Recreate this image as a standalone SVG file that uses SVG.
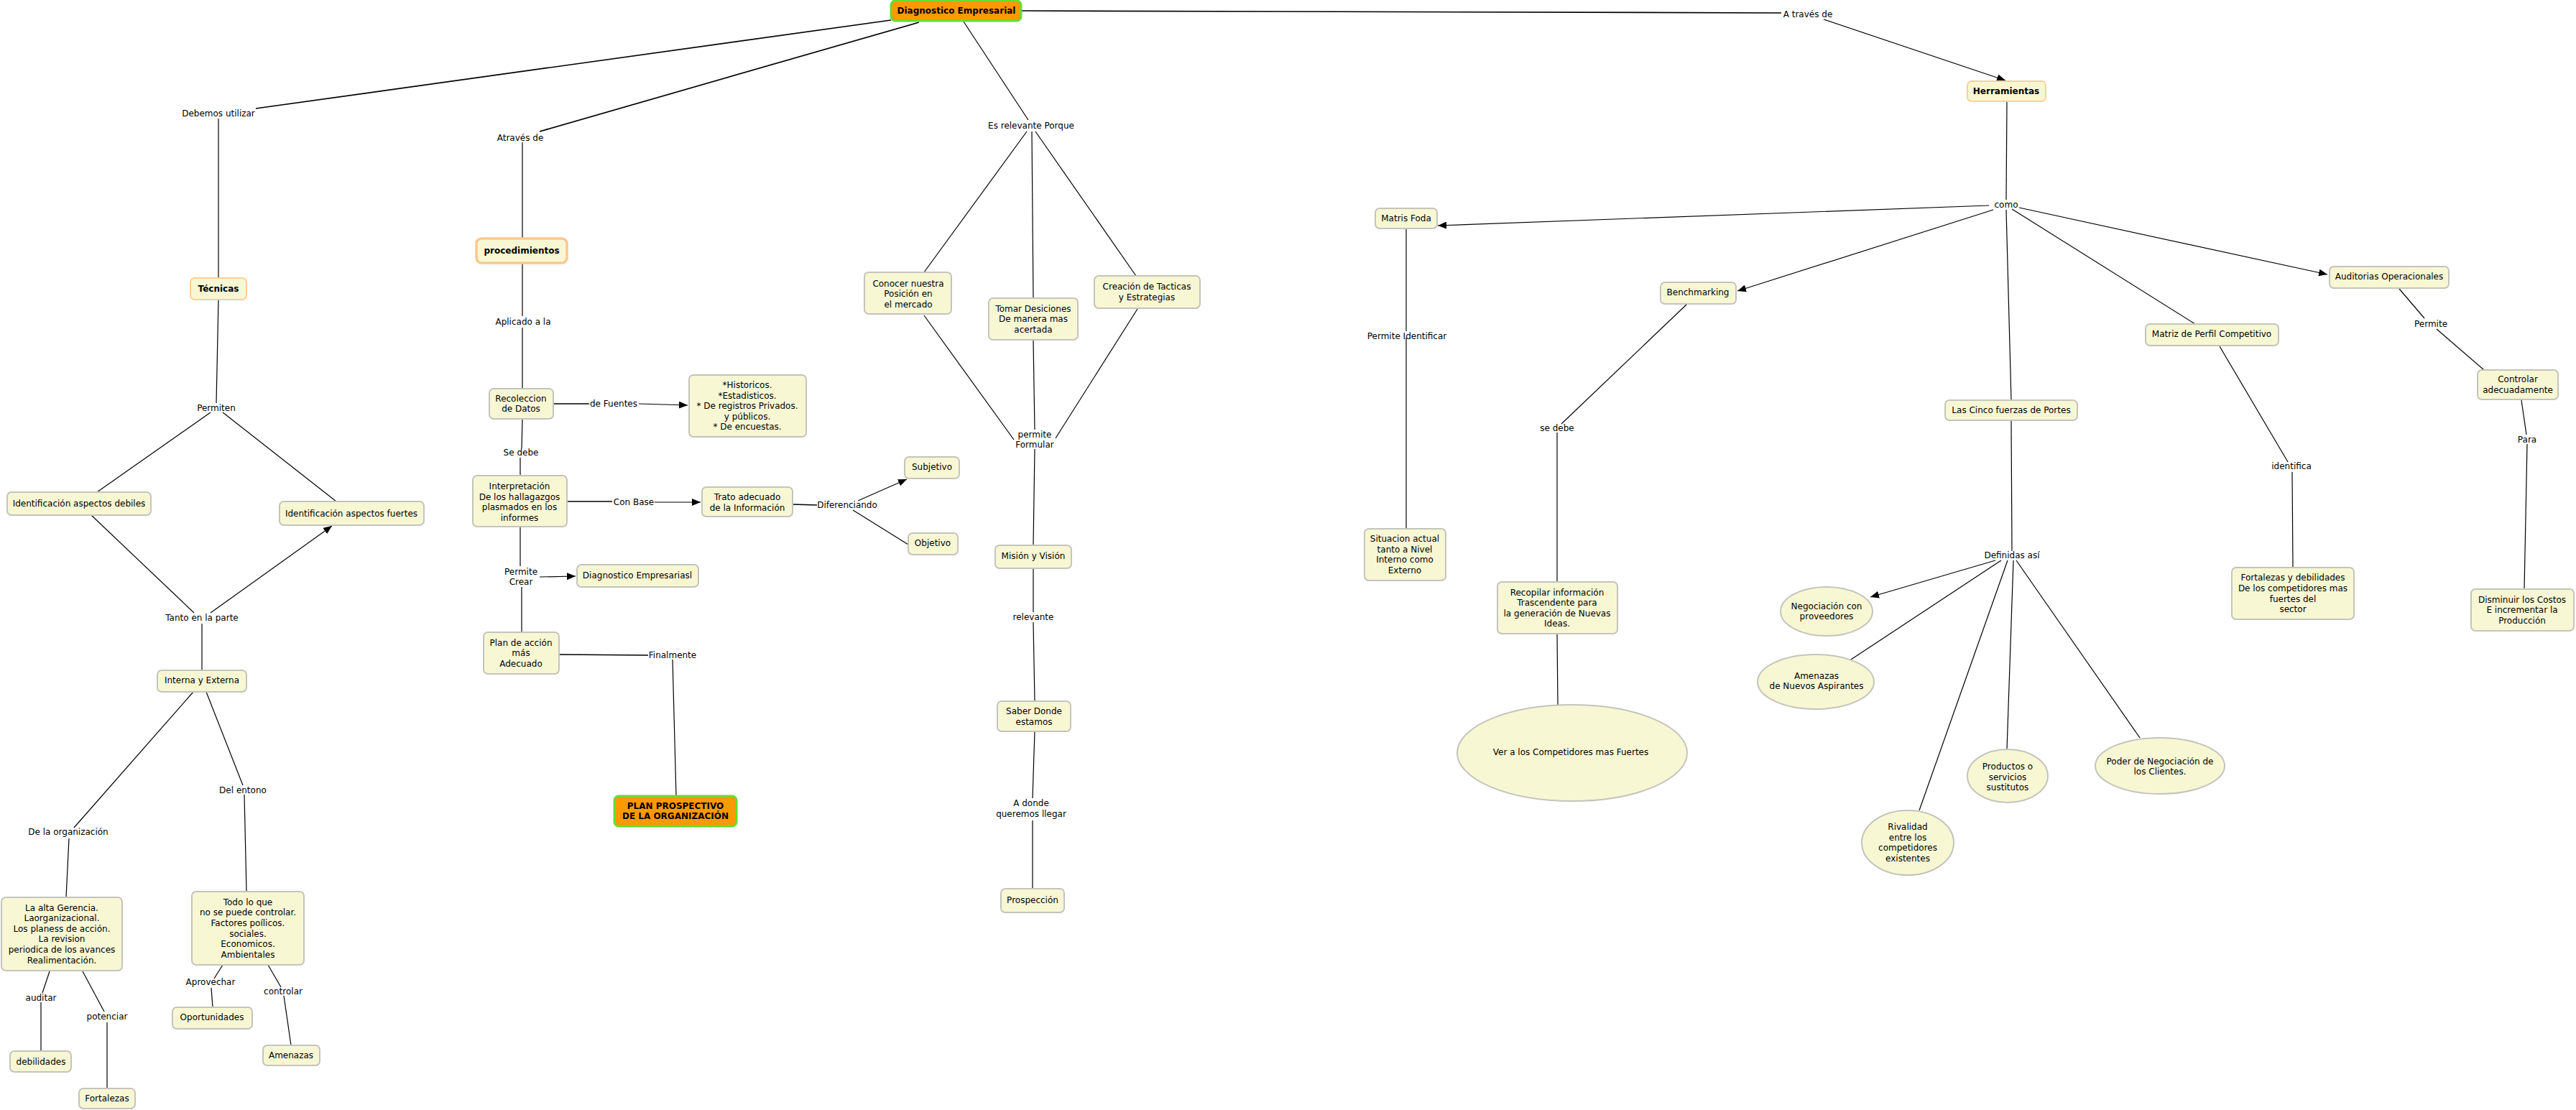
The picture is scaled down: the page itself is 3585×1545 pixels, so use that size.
<svg xmlns="http://www.w3.org/2000/svg" width="3585" height="1545" viewBox="0 0 3585 1545">
<style>
text{font-family:"DejaVu Sans",Verdana,sans-serif;font-size:12px;fill:#000;text-anchor:middle}
.b{font-weight:bold}
.n{fill:#f8f7d4;stroke:#c4c4bc;stroke-width:2}
.o{fill:#f8f7d4;stroke:#fbcf9c;stroke-width:2}
.o3{fill:#f8f7d4;stroke:#fbc890;stroke-width:3.5}
.r{fill:#ff9900;stroke:#66dd33;stroke-width:3}
.c line{stroke:#000;stroke-width:1.2}
.c line.t{stroke-width:1.7}
.a{marker-end:url(#ah);stroke-width:1.6}
</style>
<defs>
<marker id="ah" viewBox="0 0 12 10" refX="12" refY="5" markerWidth="12" markerHeight="10" markerUnits="userSpaceOnUse" orient="auto"><path d="M0,0L12,5L0,10z" fill="#000"/></marker>
</defs>
<rect width="3585" height="1545" fill="#fff"/>
<g class="c" id="connectors">
<line class="t" x1="1240" y1="28" x2="356" y2="151"/>
<line x1="304" y1="165" x2="304" y2="387"/>
<line class="t" x1="1279" y1="31" x2="751" y2="183"/>
<line x1="727" y1="198" x2="727" y2="332"/>
<line x1="727" y1="366" x2="727" y2="440"/>
<line x1="727" y1="456" x2="727" y2="541"/>
<line x1="1341" y1="30" x2="1431" y2="167"/>
<line x1="1429" y1="183" x2="1286" y2="379"/>
<line x1="1436" y1="183" x2="1438" y2="415"/>
<line x1="1441" y1="183" x2="1581" y2="384"/>
<line x1="1286" y1="439" x2="1411" y2="612"/>
<line x1="1438" y1="473" x2="1440" y2="598"/>
<line x1="1583" y1="430" x2="1469" y2="610"/>
<line x1="1440" y1="625" x2="1438" y2="759"/>
<line x1="1438" y1="792" x2="1438" y2="852"/>
<line x1="1438" y1="866" x2="1440" y2="976"/>
<line x1="1440" y1="1018" x2="1437" y2="1111"/>
<line x1="1437" y1="1142" x2="1437" y2="1237"/>
<line class="t" x1="1421" y1="15" x2="2479" y2="18"/>
<line class="a" x1="2538" y1="27" x2="2791" y2="112"/>
<line x1="2793" y1="141" x2="2792" y2="278"/>
<line class="a" x1="2768" y1="286" x2="2001" y2="314"/>
<line class="a" x1="2774" y1="292" x2="2418" y2="405"/>
<line class="a" x1="2810" y1="289" x2="3239" y2="382"/>
<line x1="2800" y1="291" x2="3055" y2="451"/>
<line x1="2792" y1="292" x2="2799" y2="557"/>
<line x1="1957" y1="318" x2="1957" y2="461"/>
<line x1="1957" y1="470" x2="1957" y2="736"/>
<line x1="2348" y1="423" x2="2173" y2="590"/>
<line x1="2167" y1="602" x2="2167" y2="810"/>
<line x1="2167" y1="882" x2="2168" y2="981"/>
<line x1="3089" y1="482" x2="3184" y2="643"/>
<line x1="3190" y1="657" x2="3191" y2="790"/>
<line x1="3339" y1="402" x2="3374" y2="443"/>
<line x1="3391" y1="458" x2="3457" y2="515"/>
<line x1="3509" y1="557" x2="3516" y2="605"/>
<line x1="3517" y1="618" x2="3513" y2="820"/>
<line x1="2799" y1="586" x2="2800" y2="767"/>
<line class="a" x1="2777" y1="780" x2="2603" y2="831"/>
<line x1="2785" y1="780" x2="2576" y2="918"/>
<line x1="2794" y1="780" x2="2671" y2="1128"/>
<line x1="2802" y1="780" x2="2793" y2="1043"/>
<line x1="2806" y1="780" x2="2978" y2="1027"/>
<line x1="304" y1="417" x2="301" y2="561"/>
<line x1="293" y1="574" x2="135" y2="685"/>
<line x1="310" y1="574" x2="468" y2="698"/>
<line x1="127" y1="717" x2="270" y2="853"/>
<line class="a" x1="293" y1="853" x2="462" y2="732"/>
<line x1="281" y1="868" x2="281" y2="933"/>
<line x1="269" y1="963" x2="103" y2="1152"/>
<line x1="287" y1="963" x2="338" y2="1093"/>
<line x1="340" y1="1106" x2="343" y2="1241"/>
<line x1="96" y1="1167" x2="92" y2="1249"/>
<line x1="69" y1="1352" x2="59" y2="1382"/>
<line x1="57" y1="1395" x2="57" y2="1463"/>
<line x1="115" y1="1352" x2="145" y2="1408"/>
<line x1="149" y1="1423" x2="149" y2="1515"/>
<line x1="310" y1="1343" x2="298" y2="1362"/>
<line x1="294" y1="1375" x2="296" y2="1402"/>
<line x1="373" y1="1343" x2="391" y2="1374"/>
<line x1="395" y1="1386" x2="405" y2="1455"/>
<line class="t" x1="770" y1="562" x2="820" y2="562"/>
<line class="a" x1="889" y1="562" x2="957" y2="564"/>
<line x1="727" y1="583" x2="726" y2="624"/>
<line x1="724" y1="637" x2="724" y2="662"/>
<line class="t" x1="789" y1="698" x2="852" y2="698"/>
<line class="a" x1="911" y1="699" x2="975" y2="699"/>
<line x1="724" y1="734" x2="724" y2="788"/>
<line class="a" x1="751" y1="803" x2="801" y2="802"/>
<line x1="726" y1="817" x2="726" y2="880"/>
<line class="t" x1="778" y1="911" x2="902" y2="912"/>
<line x1="936" y1="918" x2="941" y2="1108"/>
<line class="t" x1="1103" y1="702" x2="1137" y2="703"/>
<line class="a" x1="1194" y1="697" x2="1262" y2="667"/>
<line x1="1187" y1="710" x2="1264" y2="758"/>
</g>
<g id="labels">
<text x="304" y="162">Debemos utilizar</text>
<text x="724" y="196">Através de</text>
<text x="1435" y="179">Es relevante Porque</text>
<text x="2516" y="24">A través de</text>
<text x="728" y="452">Aplicado a la</text>
<text x="301" y="572">Permiten</text>
<text x="281" y="864">Tanto en la parte</text>
<text x="95" y="1162">De la organización</text>
<text x="338" y="1104">Del entono</text>
<text x="57" y="1393">auditar</text>
<text x="149" y="1419">potenciar</text>
<text x="293" y="1371">Aprovechar</text>
<text x="394" y="1384">controlar</text>
<text x="854" y="566">de Fuentes</text>
<text x="725" y="634">Se debe</text>
<text x="882" y="703">Con Base</text>
<text x="725" y="800">Permite</text>
<text x="725" y="814">Crear</text>
<text x="936" y="916">Finalmente</text>
<text x="1179" y="707">Diferenciando</text>
<text x="1440" y="609">permite</text>
<text x="1440" y="623">Formular</text>
<text x="1438" y="863">relevante</text>
<text x="1435" y="1122">A donde</text>
<text x="1435" y="1137">queremos llegar</text>
<text x="1958" y="472">Permite Identificar</text>
<text x="2167" y="600">se debe</text>
<text x="2792" y="289">como</text>
<text x="2800" y="777">Definidas así</text>
<text x="3189" y="653">identifica</text>
<text x="3383" y="455">Permite</text>
<text x="3517" y="616">Para</text>
</g>
<g id="diag"><rect class="r" x="1240" y="1" width="181" height="28" rx="6"/><text class="b" x="1331" y="19">Diagnostico Empresarial</text></g>
<g id="tecnicas"><rect class="o" x="265" y="387" width="78" height="30" rx="6"/><text class="b" x="304" y="406">Técnicas</text></g>
<g id="procedimientos"><rect class="o3" x="663" y="332" width="126" height="34" rx="7"/><text class="b" x="726" y="353">procedimientos</text></g>
<g id="herramientas"><rect class="o" x="2738" y="113" width="109" height="28" rx="6"/><text class="b" x="2792" y="131">Herramientas</text></g>
<g id="conocer"><rect class="n" x="1203" y="379" width="121" height="58" rx="6"/><text x="1264"><tspan x="1264" y="399">Conocer nuestra</tspan><tspan x="1264" y="413">Posición en</tspan><tspan x="1264" y="428">el mercado</tspan></text></g>
<g id="tomar"><rect class="n" x="1376" y="415" width="124" height="58" rx="6"/><text x="1438"><tspan x="1438" y="434">Tomar Desiciones</tspan><tspan x="1438" y="448">De manera mas</tspan><tspan x="1438" y="463">acertada</tspan></text></g>
<g id="creacion"><rect class="n" x="1523" y="384" width="147" height="45" rx="6"/><text x="1596"><tspan x="1596" y="403">Creación de Tacticas</tspan><tspan x="1596" y="418">y Estrategias</tspan></text></g>
<g id="recoleccion"><rect class="n" x="681" y="541" width="89" height="42" rx="6"/><text x="725"><tspan x="725" y="559">Recoleccion</tspan><tspan x="725" y="573">de Datos</tspan></text></g>
<g id="historicos"><rect class="n" x="959" y="522" width="163" height="86" rx="6"/><text x="1040"><tspan x="1040" y="540">*Historicos.</tspan><tspan x="1040" y="555">*Estadisticos.</tspan><tspan x="1040" y="569">* De registros Privados.</tspan><tspan x="1040" y="584">y públicos.</tspan><tspan x="1040" y="598">* De encuestas.</tspan></text></g>
<g id="interpretacion"><rect class="n" x="658" y="662" width="131" height="71" rx="6"/><text x="723"><tspan x="723" y="681">Interpretación</tspan><tspan x="723" y="696">De los hallagazgos</tspan><tspan x="723" y="710">plasmados en los</tspan><tspan x="723" y="725">informes</tspan></text></g>
<g id="trato"><rect class="n" x="977" y="678" width="126" height="41" rx="6"/><text x="1040"><tspan x="1040" y="696">Trato adecuado</tspan><tspan x="1040" y="711">de la Información</tspan></text></g>
<g id="subjetivo"><rect class="n" x="1259" y="636" width="76" height="30" rx="6"/><text x="1297" y="654">Subjetivo</text></g>
<g id="objetivo"><rect class="n" x="1264" y="742" width="69" height="30" rx="6"/><text x="1298" y="760">Objetivo</text></g>
<g id="diagemp2"><rect class="n" x="803" y="786" width="169" height="31" rx="6"/><text x="887" y="805">Diagnostico Empresariasl</text></g>
<g id="plan"><rect class="n" x="673" y="880" width="105" height="58" rx="6"/><text x="725"><tspan x="725" y="899">Plan de acción</tspan><tspan x="725" y="913">más</tspan><tspan x="725" y="928">Adecuado</tspan></text></g>
<g id="planprosp"><rect class="r" x="855" y="1108" width="170" height="42" rx="6"/><text class="b" x="940"><tspan x="940" y="1126">PLAN PROSPECTIVO</tspan><tspan x="940" y="1140">DE LA ORGANIZACIÓN</tspan></text></g>
<g id="mision"><rect class="n" x="1385" y="759" width="106" height="32" rx="6"/><text x="1438" y="778">Misión y Visión</text></g>
<g id="saber"><rect class="n" x="1388" y="976" width="102" height="42" rx="6"/><text x="1439"><tspan x="1439" y="994">Saber Donde</tspan><tspan x="1439" y="1009">estamos</tspan></text></g>
<g id="prospeccion"><rect class="n" x="1393" y="1237" width="88" height="33" rx="6"/><text x="1437" y="1257">Prospección</text></g>
<g id="idebiles"><rect class="n" x="10" y="685" width="200" height="32" rx="6"/><text x="110" y="705">Identificación aspectos debiles</text></g>
<g id="ifuertes"><rect class="n" x="389" y="698" width="201" height="33" rx="6"/><text x="489" y="719">Identificación aspectos fuertes</text></g>
<g id="interna"><rect class="n" x="219" y="933" width="124" height="30" rx="6"/><text x="281" y="951">Interna y Externa</text></g>
<g id="altagerencia"><rect class="n" x="2" y="1249" width="168" height="102" rx="6"/><text x="86"><tspan x="86" y="1268">La alta Gerencia.</tspan><tspan x="86" y="1282">Laorganizacional.</tspan><tspan x="86" y="1297">Los planess de acción.</tspan><tspan x="86" y="1311">La revision</tspan><tspan x="86" y="1326">periodica de los avances</tspan><tspan x="86" y="1341">Realimentación.</tspan></text></g>
<g id="todoloque"><rect class="n" x="267" y="1241" width="156" height="102" rx="6"/><text x="345"><tspan x="345" y="1260">Todo lo que</tspan><tspan x="345" y="1274">no se puede controlar.</tspan><tspan x="345" y="1289">Factores poílicos.</tspan><tspan x="345" y="1304">sociales.</tspan><tspan x="345" y="1318">Economicos.</tspan><tspan x="345" y="1333">Ambientales</tspan></text></g>
<g id="debilidades"><rect class="n" x="14" y="1463" width="85" height="29" rx="6"/><text x="57" y="1482">debilidades</text></g>
<g id="fortalezas"><rect class="n" x="110" y="1515" width="78" height="28" rx="6"/><text x="149" y="1533">Fortalezas</text></g>
<g id="oportunidades"><rect class="n" x="240" y="1402" width="111" height="30" rx="6"/><text x="295" y="1420">Oportunidades</text></g>
<g id="amenazas"><rect class="n" x="366" y="1455" width="79" height="28" rx="6"/><text x="405" y="1473">Amenazas</text></g>
<g id="matrisfoda"><rect class="n" x="1914" y="290" width="86" height="28" rx="6"/><text x="1957" y="308">Matris Foda</text></g>
<g id="situacion"><rect class="n" x="1899" y="736" width="113" height="72" rx="6"/><text x="1955"><tspan x="1955" y="754">Situacion actual</tspan><tspan x="1955" y="769">tanto a Nivel</tspan><tspan x="1955" y="783">Interno como</tspan><tspan x="1955" y="798">Externo</tspan></text></g>
<g id="benchmarking"><rect class="n" x="2311" y="393" width="105" height="30" rx="6"/><text x="2363" y="411">Benchmarking</text></g>
<g id="recopilar"><rect class="n" x="2084" y="810" width="167" height="72" rx="6"/><text x="2167"><tspan x="2167" y="829">Recopilar información</tspan><tspan x="2167" y="843">Trascendente para</tspan><tspan x="2167" y="858">la generación de Nuevas</tspan><tspan x="2167" y="872">Ideas.</tspan></text></g>
<g id="ver"><ellipse class="n" cx="2188" cy="1048" rx="160" ry="67"/><text x="2186" y="1051">Ver a los Competidores mas Fuertes</text></g>
<g id="auditorias"><rect class="n" x="3242" y="371" width="166" height="30" rx="6"/><text x="3325" y="389">Auditorias Operacionales</text></g>
<g id="matrizperfil"><rect class="n" x="2986" y="451" width="185" height="30" rx="6"/><text x="3078" y="469">Matriz de Perfil Competitivo</text></g>
<g id="cincofuerzas"><rect class="n" x="2707" y="557" width="184" height="28" rx="6"/><text x="2799" y="575">Las Cinco fuerzas de Portes</text></g>
<g id="fortdeb"><rect class="n" x="3106" y="790" width="170" height="72" rx="6"/><text x="3191"><tspan x="3191" y="808">Fortalezas y debilidades</tspan><tspan x="3191" y="823">De los competidores mas</tspan><tspan x="3191" y="838">fuertes del</tspan><tspan x="3191" y="852">sector</tspan></text></g>
<g id="controlar"><rect class="n" x="3448" y="515" width="112" height="41" rx="6"/><text x="3504"><tspan x="3504" y="532">Controlar</tspan><tspan x="3504" y="547">adecuadamente</tspan></text></g>
<g id="disminuir"><rect class="n" x="3439" y="820" width="143" height="58" rx="6"/><text x="3510"><tspan x="3510" y="839">Disminuir los Costos</tspan><tspan x="3510" y="853">E incrementar la</tspan><tspan x="3510" y="868">Producción</tspan></text></g>
<g id="negociacion"><ellipse class="n" cx="2542" cy="851" rx="64" ry="34"/><text x="2542"><tspan x="2542" y="848">Negociación con</tspan><tspan x="2542" y="862">proveedores</tspan></text></g>
<g id="amenazasn"><ellipse class="n" cx="2527" cy="949" rx="81" ry="38"/><text x="2528"><tspan x="2528" y="945">Amenazas</tspan><tspan x="2528" y="959">de Nuevos Aspirantes</tspan></text></g>
<g id="rivalidad"><ellipse class="n" cx="2655" cy="1173" rx="64" ry="45"/><text x="2655"><tspan x="2655" y="1155">Rivalidad</tspan><tspan x="2655" y="1170">entre los</tspan><tspan x="2655" y="1184">competidores</tspan><tspan x="2655" y="1199">existentes</tspan></text></g>
<g id="productos"><ellipse class="n" cx="2794" cy="1080" rx="56" ry="37"/><text x="2794"><tspan x="2794" y="1071">Productos o</tspan><tspan x="2794" y="1086">servicios</tspan><tspan x="2794" y="1100">sustitutos</tspan></text></g>
<g id="poder"><ellipse class="n" cx="3006" cy="1066" rx="90" ry="39"/><text x="3006"><tspan x="3006" y="1064">Poder de Negociación de</tspan><tspan x="3006" y="1078">los Clientes.</tspan></text></g>
</svg>
